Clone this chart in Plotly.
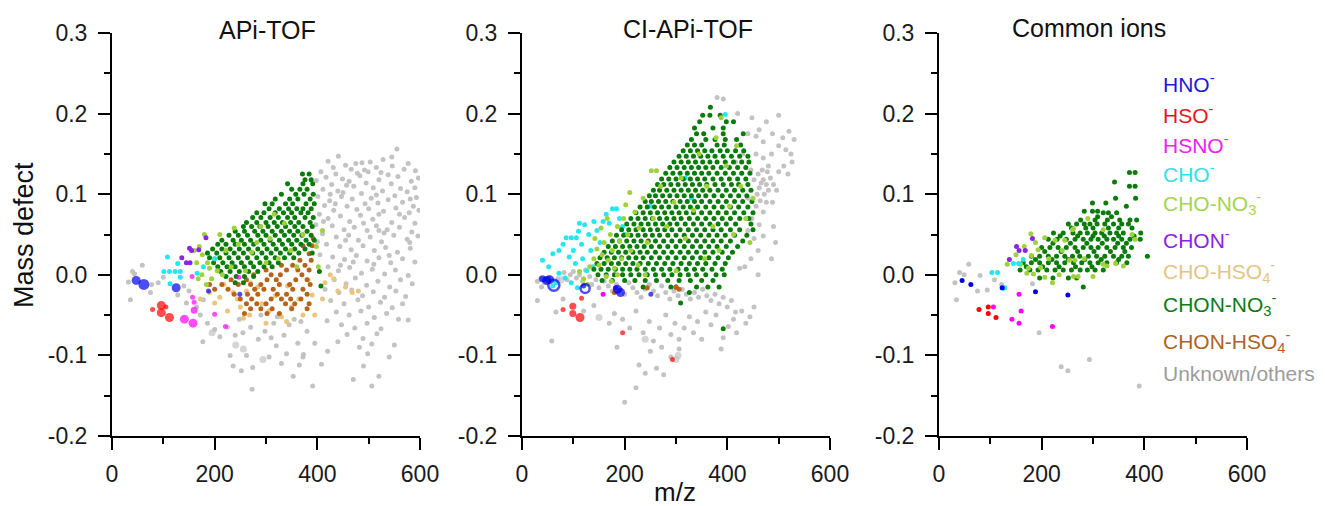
import plotly.graph_objects as go

# ============================ DATA ============================
X_TICKS = [0, 200, 400, 600]
X_TICK_LABELS = ["0", "200", "400", "600"]
X_MINOR = [100, 300, 500]
Y_TICKS = [-0.2, -0.1, 0.0, 0.1, 0.2, 0.3]
Y_TICK_LABELS = ["-0.2", "-0.1", "0.0", "0.1", "0.2", "0.3"]
Y_MINOR = [-0.15, -0.05, 0.05, 0.15, 0.25]
PANEL_TITLES = ["APi-TOF", "CI-APi-TOF", "Common ions"]
X_TITLE = "m/z"
Y_TITLE = "Mass defect"
CATEGORIES = ["HNO", "HSO", "HSNO", "CHO", "CHO-NO3", "CHON", "CHO-HSO4",
              "CHON-NO3", "CHON-HSO4", "Unknown"]
LEGEND_LABELS = ["HNO<sup>-</sup>", "HSO<sup>-</sup>", "HSNO<sup>-</sup>", "CHO<sup>-</sup>",
                 "CHO-NO<sub>3</sub><sup>-</sup>", "CHON<sup>-</sup>",
                 "CHO-HSO<sub>4</sub><sup>-</sup>", "CHON-NO<sub>3</sub><sup>-</sup>",
                 "CHON-HSO<sub>4</sub><sup>-</sup>", "Unknown/others"]

# ---- Panel A: APi-TOF  (m/z, mass defect[, intensity class]) ----
A_HNO = [(47, -0.007, 2), (62, -0.012, 3), (125, -0.016, 2), (188, -0.020, 0), (249, -0.024, 0)]
A_HSO = [(79, -0.043, 0), (96, -0.038, 2), (96, -0.047, 2), (112, -0.053, 2), (105, -0.040, 0)]
A_HSNO = [(141, -0.055, 2), (158, -0.060, 2), (160, -0.044, 1), (157, -0.028, 0), (160, -0.034, 0),
          (200, -0.049, 0), (221, -0.064, 0), (247, -0.003, 0), (156, -0.002, 0)]
A_CHO = [(108, 0.022), (101, 0.004), (112, 0.004), (123, 0.004), (133, 0.004), (133, -0.003),
         (113, -0.011), (166, 0.002), (200, 0.020), (128, 0.014), (178, 0.010)]
A_CHON = [(151, 0.033), (155, 0.030), (169, 0.031), (183, 0.046), (136, 0.021), (152, 0.015), (145, 0.015)]
A_CHO_NO3 = [(160, 0.030), (170, 0.035), (180, 0.050), (176, 0.025), (168, -0.005), (186, 0.015),
             (200, 0.020), (194, -0.005), (210, 0.050), (222, 0.030), (232, 0.010), (246, 0.038),
             (260, 0.005), (272, 0.028), (290, 0.060), (300, 0.015), (308, 0.045), (324, 0.020),
             (336, 0.064), (348, 0.030), (360, 0.010), (372, 0.050), (398, 0.035), (402, 0.010),
             (410, 0.055), (165, 0.015), (175, 0.000), (190, 0.008), (215, 0.000), (238, 0.058),
             (282, 0.040), (316, 0.075), (205, 0.005), (184, -0.012)]
A_CHO_HSO4 = [(172, -0.030), (190, -0.022), (200, -0.035), (210, -0.028), (225, -0.045), (236, -0.022),
              (250, -0.040), (268, -0.050), (284, -0.015), (306, -0.045), (330, -0.052), (350, -0.040),
              (372, -0.050), (390, -0.025), (415, -0.010), (425, 0.000), (440, -0.020), (455, -0.015),
              (468, -0.022), (480, -0.020), (395, -0.050), (410, -0.030), (300, -0.060), (270, -0.010),
              (432, -0.005), (218, -0.012), (244, -0.030), (262, -0.020), (292, -0.036), (318, -0.026),
              (342, -0.014), (364, -0.030), (382, -0.006), (256, -0.054), (340, -0.058)]
# rows: (mass defect, [m/z ...])
A_CHON_NO3 = [
    (0.125, [371, 384]),
    (0.118, [376, 388]),
    (0.113, [342, 372, 391]),
    (0.106, [350, 366, 380]),
    (0.100, [330, 358, 374, 392]),
    (0.094, [318, 346, 362, 386]),
    (0.088, [298, 312, 338, 352, 378, 394]),
    (0.082, [306, 326, 344, 360, 372, 388]),
    (0.077, [282, 296, 318, 334, 350, 368, 382]),
    (0.071, [274, 290, 308, 324, 342, 356, 376, 392]),
    (0.065, [262, 282, 300, 316, 332, 348, 364, 386]),
    (0.060, [256, 272, 288, 304, 322, 338, 356, 372, 390]),
    (0.054, [240, 258, 278, 294, 312, 330, 346, 362, 380]),
    (0.049, [228, 246, 264, 284, 300, 318, 336, 354, 370, 388]),
    (0.043, [214, 236, 252, 270, 290, 308, 326, 344, 360, 378, 394]),
    (0.038, [206, 222, 240, 258, 276, 296, 314, 332, 350, 368, 384]),
    (0.032, [196, 214, 230, 248, 266, 284, 302, 320, 338, 356, 376]),
    (0.027, [186, 204, 222, 238, 256, 274, 292, 310, 328, 346, 364, 390]),
    (0.021, [190, 210, 228, 246, 264, 282, 300, 318, 336, 354]),
    (0.015, [198, 216, 234, 252, 270, 288, 306, 324]),
    (0.010, [206, 224, 240, 258, 276, 296, 312]),
    (0.004, [212, 230, 248, 266, 284, 404]),
    (-0.002, [222, 242, 258, 276]),
    (-0.010, [240, 256]),
    (-0.014, [407]),
]
A_CHON_HSO4 = [
    (0.045, [392]),
    (0.036, [372, 390]),
    (0.026, [384]),
    (0.018, [366, 388]),
    (0.012, [330, 352, 376]),
    (0.006, [300, 340, 362, 384]),
    (0.000, [276, 310, 328, 370]),
    (-0.006, [232, 262, 302, 320, 358, 380]),
    (-0.012, [190, 214, 246, 270, 290, 326, 346, 386]),
    (-0.018, [200, 226, 278, 296, 314, 352, 372]),
    (-0.024, [238, 264, 284, 322, 340, 380]),
    (-0.030, [250, 272, 310, 330, 348, 368]),
    (-0.036, [262, 282, 300, 338, 356, 384]),
    (-0.042, [270, 290, 312, 350, 380]),
    (-0.048, [258, 302, 326]),
]
A_UNK_BIG = [(195, -0.072, 1), (241, -0.087, 1), (256, -0.092, 1), (294, -0.105, 1)]
A_UNK = [
    (32, -0.009), (36, -0.031), (40, 0.004), (44, 0.001), (59, 0.012), (77, -0.012), (75, -0.022),
    (100, -0.003), (90, -0.010), (128, -0.025), (140, -0.014), (150, -0.020), (165, -0.040),
    (178, -0.031), (172, -0.050), (186, -0.060), (145, -0.035), (200, -0.068), (240, -0.075),
    (177, -0.083), (210, -0.077), (225, -0.065), (236, -0.113), (252, -0.119), (274, -0.115),
    (273, -0.142), (306, -0.102), (315, -0.060), (335, -0.075), (353, -0.126), (340, -0.098),
    (362, -0.085), (373, -0.099), (380, -0.070), (391, -0.138), (270, -0.065), (285, -0.080),
    (248, -0.055), (320, -0.088), (355, -0.055), (230, -0.100), (262, -0.100), (298, -0.070),
    (330, -0.110), (345, -0.062), (365, -0.112), (395, -0.085), (290, -0.050), (255, -0.072),
    (310, -0.078), (322, -0.052), (368, -0.058),
    (555, 0.156), (441, 0.147), (528, 0.143), (503, 0.140), (421, 0.141), (455, 0.136), (487, 0.139),
    (577, 0.138), (466, 0.131), (515, 0.133), (546, 0.135), (591, 0.129), (407, 0.128), (431, 0.133),
    (478, 0.126), (499, 0.128), (538, 0.124), (569, 0.131), (417, 0.121), (449, 0.119), (483, 0.123),
    (520, 0.118), (557, 0.122), (597, 0.120), (462, 0.116), (398, 0.117), (428, 0.112), (471, 0.110),
    (495, 0.114), (509, 0.108), (544, 0.113), (583, 0.116), (562, 0.107), (411, 0.106), (440, 0.104),
    (457, 0.111), (486, 0.101), (527, 0.104), (551, 0.098), (575, 0.103), (593, 0.096), (401, 0.097),
    (424, 0.092), (447, 0.097), (468, 0.094), (505, 0.095), (518, 0.089), (538, 0.093), (566, 0.090),
    (587, 0.085), (414, 0.086), (432, 0.080), (458, 0.085), (477, 0.081), (493, 0.088), (529, 0.079),
    (553, 0.083), (579, 0.077), (598, 0.080), (404, 0.075), (421, 0.070), (445, 0.073), (463, 0.066),
    (484, 0.074), (508, 0.069), (520, 0.075), (545, 0.065), (570, 0.071), (590, 0.064), (397, 0.062),
    (429, 0.061), (452, 0.056), (472, 0.059), (497, 0.055), (515, 0.061), (536, 0.056), (560, 0.059),
    (584, 0.053), (410, 0.051), (437, 0.047), (461, 0.049), (480, 0.043), (503, 0.047), (525, 0.041),
    (549, 0.049), (575, 0.044), (596, 0.048), (418, 0.038), (444, 0.035), (466, 0.031), (489, 0.036),
    (511, 0.030), (533, 0.034), (556, 0.028), (581, 0.033), (405, 0.025), (430, 0.022), (453, 0.019),
    (476, 0.024), (497, 0.017), (520, 0.021), (543, 0.015), (566, 0.020), (590, 0.016), (421, 0.010),
    (441, 0.005), (463, 0.009), (486, 0.002), (507, 0.007), (531, 0.001), (552, 0.006), (577, -0.001),
    (433, -0.006), (456, -0.011), (474, -0.004), (496, -0.013), (518, -0.008), (541, -0.015),
    (562, -0.006), (585, -0.011), (415, -0.018), (442, -0.022), (467, -0.019), (488, -0.026),
    (509, -0.021), (531, -0.028), (553, -0.020), (572, -0.027), (426, -0.032), (452, -0.036),
    (479, -0.031), (500, -0.040), (523, -0.034), (546, -0.041), (566, -0.036), (437, -0.046),
    (462, -0.050), (485, -0.045), (511, -0.053), (535, -0.048), (558, -0.055), (419, -0.057),
    (447, -0.062), (473, -0.066), (497, -0.060), (524, -0.067), (577, -0.056), (458, -0.074),
    (489, -0.079), (516, -0.073), (440, -0.083), (482, -0.090), (506, -0.086), (550, -0.087),
    (420, -0.095), (498, -0.098), (372, -0.102), (540, -0.102), (408, -0.111), (490, -0.113),
    (470, -0.130), (520, -0.126), (506, -0.138),
    (436, 0.125), (492, 0.130), (524, 0.127), (450, 0.102), (515, 0.099), (581, 0.094), (435, 0.088),
    (500, 0.082), (560, 0.075), (412, 0.066), (490, 0.064), (530, 0.052), (455, 0.043), (520, 0.055),
    (580, 0.040), (470, 0.016), (540, 0.024), (400, 0.041), (510, 0.013), (445, 0.012), (425, 0.100),
    (475, 0.138), (545, 0.146), (590, 0.108),
]

# ---- Panel B: CI-APi-TOF ----
B_HNO = [(40, -0.005, 1), (48, -0.007, 2), (54, -0.006, 2), (120, -0.014, 0), (186, -0.018, 2),
         (192, -0.022, 2), (251, -0.024, 0)]
B_HNO_RING = [(62, -0.013, 3), (123, -0.017, 2)]
B_HSO = [(80, -0.043, 0), (99, -0.039, 1), (99, -0.048, 1), (113, -0.053, 2), (116, -0.029, 0),
         (196, -0.072, 0), (293, -0.105, 0)]
B_HSNO = [(158, -0.024)]
B_CHON = [(182, -0.016)]
B_CHON_HSO4 = [(180, -0.022), (300, -0.015), (306, -0.018), (244, -0.016)]
B_CHO = [(40, 0.018), (44, -0.006), (52, 0.010), (60, 0.026), (66, -0.010), (72, 0.030), (80, 0.038),
         (86, 0.046), (92, 0.022), (96, 0.046), (100, 0.030), (104, 0.014), (106, 0.046), (110, 0.054),
         (116, 0.038), (118, 0.020), (122, 0.062), (126, 0.005), (130, 0.050), (134, 0.030), (140, 0.066),
         (146, 0.055), (152, 0.040), (158, 0.066), (164, 0.075), (170, 0.064), (176, 0.082), (184, 0.082),
         (190, 0.070), (96, -0.010), (108, -0.016), (84, -0.004), (72, 0.002), (60, -0.014), (138, 0.010),
         (112, 0.064), (196, 0.060), (200, 0.050), (318, 0.120), (396, 0.199), (330, 0.095), (250, 0.085)]
B_CHO_NO3 = [(112, 0.004), (120, -0.005), (128, -0.012), (132, 0.010), (140, 0.020), (146, 0.032),
             (150, 0.012), (156, 0.025), (160, 0.040), (164, -0.002), (168, 0.018), (172, 0.050),
             (176, 0.030), (180, 0.008), (186, 0.060), (190, 0.042), (194, 0.020), (198, 0.070),
             (202, 0.087), (206, 0.050), (212, 0.030), (220, 0.078), (228, 0.058), (236, 0.095),
             (244, 0.040), (252, 0.129), (262, 0.129), (256, 0.070), (270, 0.110), (282, 0.060),
             (296, 0.090), (310, 0.120), (318, 0.045), (334, 0.080), (345, 0.150), (356, 0.020),
             (360, 0.110), (372, 0.060), (378, 0.170), (388, 0.195), (398, 0.135), (404, 0.085),
             (412, 0.050), (418, 0.160), (426, 0.110), (436, 0.070), (444, 0.040), (450, 0.095),
             (384, 0.030), (300, 0.005), (240, 0.000), (226, 0.012), (186, 0.000), (174, -0.008),
             (142, 0.045), (154, 0.058), (166, 0.070), (210, 0.102)]
B_CHON_NO3 = [
    (0.208, [367]),
    (0.198, [352, 366, 386]),
    (0.190, [346, 398, 412]),
    (0.182, [336, 372, 392]),
    (0.175, [340, 354, 392, 431]),
    (0.168, [330, 358, 376, 396, 418]),
    (0.161, [322, 336, 350, 380, 394, 426]),
    (0.154, [314, 328, 342, 356, 370, 386, 400, 416, 432]),
    (0.147, [306, 320, 334, 348, 362, 376, 392, 408, 424, 440]),
    (0.140, [296, 310, 324, 338, 352, 366, 380, 396, 412, 428, 442]),
    (0.133, [288, 302, 316, 330, 344, 358, 372, 388, 404, 420, 436]),
    (0.126, [280, 294, 308, 322, 336, 350, 364, 380, 396, 412, 428, 444]),
    (0.119, [272, 286, 300, 314, 328, 342, 356, 372, 388, 404, 420, 436]),
    (0.112, [264, 276, 290, 304, 318, 332, 346, 360, 376, 392, 408, 422, 440]),
    (0.105, [256, 268, 282, 296, 310, 324, 338, 352, 366, 382, 398, 414, 430, 446]),
    (0.098, [248, 260, 274, 288, 302, 316, 330, 344, 358, 374, 390, 406, 422, 438]),
    (0.091, [240, 252, 266, 280, 294, 308, 322, 336, 350, 366, 382, 398, 414, 430, 448]),
    (0.084, [230, 244, 258, 272, 286, 300, 314, 328, 342, 358, 374, 390, 406, 422, 440]),
    (0.077, [222, 236, 250, 264, 278, 292, 306, 320, 334, 350, 366, 382, 398, 414, 432, 450]),
    (0.070, [212, 226, 240, 254, 268, 282, 296, 310, 326, 342, 358, 374, 390, 406, 424, 442]),
    (0.063, [204, 218, 232, 246, 260, 274, 288, 302, 318, 334, 350, 366, 382, 398, 416, 446]),
    (0.056, [194, 208, 222, 236, 250, 264, 278, 292, 308, 324, 340, 356, 372, 388, 406, 424, 450]),
    (0.049, [184, 198, 212, 226, 240, 254, 268, 284, 300, 316, 332, 348, 364, 380, 396, 414, 438]),
    (0.042, [176, 190, 204, 218, 232, 246, 260, 276, 292, 308, 324, 340, 356, 372, 388, 406, 430]),
    (0.035, [168, 182, 196, 210, 224, 238, 252, 268, 284, 300, 316, 332, 348, 364, 380, 398, 420]),
    (0.028, [160, 174, 188, 202, 216, 230, 244, 260, 276, 292, 308, 324, 340, 356, 372, 390, 410]),
    (0.021, [152, 166, 180, 194, 208, 222, 236, 252, 268, 284, 300, 316, 332, 348, 364, 382, 402]),
    (0.014, [146, 160, 174, 188, 202, 216, 230, 246, 262, 278, 294, 310, 326, 342, 358, 376, 396]),
    (0.007, [140, 154, 168, 182, 196, 210, 224, 240, 256, 272, 288, 304, 320, 336, 352, 370, 390]),
    (0.000, [148, 164, 180, 196, 212, 228, 244, 260, 276, 292, 308, 324, 340, 358, 378, 394]),
    (-0.007, [156, 176, 200, 220, 240, 262, 284, 306, 328, 350, 372]),
    (-0.015, [236, 290, 300, 340, 362, 384]),
    (-0.022, [326]),
    (-0.035, [309]),
    (-0.067, [392]),
]
B_UNK_BIG = [(76, -0.006, 1), (150, -0.053, 1), (240, -0.080, 1), (300, -0.105, 1), (304, -0.100, 1)]
B_UNK = [
    (30, -0.008), (36, -0.005), (38, -0.015), (44, -0.010), (52, -0.003), (70, -0.005), (82, 0.003),
    (88, -0.006), (94, 0.000), (100, 0.004), (106, -0.004), (112, 0.000), (118, -0.008), (124, 0.006),
    (132, -0.002), (136, -0.012), (144, -0.006), (150, -0.016), (160, -0.008), (168, -0.014),
    (176, -0.020), (184, -0.012), (192, -0.018), (200, -0.024), (208, -0.010), (216, -0.016),
    (224, -0.022), (232, -0.028), (240, -0.018), (248, -0.012), (256, -0.020), (264, -0.026),
    (272, -0.014), (280, -0.022), (288, -0.030), (296, -0.020), (304, -0.026), (312, -0.018),
    (320, -0.024), (328, -0.030), (336, -0.022), (344, -0.028), (352, -0.018), (360, -0.026),
    (368, -0.032), (376, -0.024), (384, -0.036), (392, -0.028), (400, -0.040), (408, -0.032),
    (416, -0.046), (30, -0.032), (66, -0.046), (58, -0.082),
    (80, -0.030), (120, -0.045), (140, -0.038), (170, -0.060), (180, -0.048), (196, -0.055),
    (210, -0.066), (222, -0.045), (236, -0.072), (248, -0.058), (256, -0.082), (268, -0.066),
    (280, -0.050), (290, -0.074), (298, -0.060), (306, -0.080), (316, -0.066), (326, -0.052),
    (334, -0.072), (342, -0.058), (350, -0.080), (358, -0.046), (368, -0.062), (378, -0.050),
    (388, -0.092), (392, -0.078), (402, -0.064), (412, -0.055), (418, -0.072), (428, -0.045),
    (436, -0.060), (444, -0.052), (452, -0.040), (228, -0.112), (240, -0.122), (222, -0.140),
    (200, -0.158), (262, -0.116), (276, -0.124), (290, -0.102), (306, -0.092), (250, -0.095),
    (272, -0.090), (185, -0.090),
    (380, 0.220), (392, 0.218), (420, 0.200), (448, 0.195), (462, 0.180), (476, 0.190), (500, 0.198),
    (488, 0.175), (508, 0.170), (520, 0.178), (530, 0.168), (470, 0.165), (456, 0.172), (440, 0.175),
    (500, 0.160), (514, 0.155), (524, 0.150), (486, 0.150), (470, 0.145), (456, 0.150), (460, 0.125),
    (470, 0.118), (476, 0.112), (484, 0.120), (462, 0.108), (472, 0.100), (466, 0.114), (480, 0.105),
    (490, 0.112), (496, 0.105), (452, 0.118), (500, 0.128), (510, 0.135), (518, 0.125), (526, 0.140),
    (480, 0.135), (446, 0.130), (440, 0.095), (456, 0.085), (470, 0.078), (448, 0.070), (462, 0.062),
    (440, 0.055), (452, 0.045), (460, 0.030), (446, 0.020), (434, 0.010), (470, 0.048), (476, 0.090),
    (488, 0.090), (430, 0.150), (416, 0.140), (490, 0.060), (424, 0.008), (460, 0.000), (486, 0.020),
    (494, 0.040), (478, 0.128), (468, 0.130), (458, 0.100), (464, 0.092),
]

# ---- Panel C: common ions ----
C_HNO = [(45, -0.007), (62, -0.012), (123, -0.016), (188, -0.021), (251, -0.025)]
C_HSO = [(78, -0.043), (96, -0.040), (96, -0.048), (111, -0.053)]
C_HSNO = [(106, -0.040), (156, -0.024), (160, -0.045), (142, -0.055), (156, -0.060), (221, -0.064)]
C_CHO = [(103, 0.003), (114, 0.003), (125, -0.017), (128, -0.016), (145, 0.014), (155, 0.014), (164, 0.019)]
C_CHON = [(137, 0.019), (151, 0.035), (156, 0.030), (168, 0.030), (182, 0.045)]
C_UNK = [(40, 0.003), (49, 0.000), (58, 0.013), (31, -0.010), (34, -0.031), (80, -0.001), (75, -0.020),
         (94, -0.019), (108, -0.006), (122, -0.012), (182, -0.011), (195, -0.072), (238, -0.114),
         (251, -0.119), (293, -0.105), (390, -0.138)]
C_CHO_NO3 = [(179, 0.051), (166, 0.035), (193, 0.031), (206, 0.046), (133, 0.013), (159, 0.013),
             (180, 0.024), (174, 0.008), (171, 0.002), (184, 0.001), (206, -0.003), (226, 0.043),
             (245, 0.043), (262, 0.057), (265, 0.018), (254, 0.018), (271, -0.002), (262, -0.002),
             (221, -0.010), (320, 0.013), (344, 0.014), (327, 0.011), (359, 0.011), (382, 0.044),
             (320, 0.056), (260, 0.056), (240, 0.030), (290, 0.070), (300, -0.002), (214, 0.020),
             (198, 0.009), (188, 0.040), (150, 0.025), (234, 0.000), (283, 0.020), (376, 0.050)]
C_CHON_NO3 = [
    (0.127, [371, 382]),
    (0.115, [342]),
    (0.110, [371, 382]),
    (0.095, [344, 383]),
    (0.089, [299, 325]),
    (0.085, [365]),
    (0.079, [283, 299, 309]),
    (0.077, [320, 330, 346]),
    (0.072, [309, 336]),
    (0.068, [276, 304, 328, 352, 372, 385]),
    (0.063, [252, 268, 283, 294, 308, 323, 340, 356, 369]),
    (0.058, [258, 286, 300, 330, 350, 376]),
    (0.052, [223, 242, 261, 275, 289, 304, 317, 333, 346, 359, 393]),
    (0.048, [236, 270, 300, 322, 350, 380]),
    (0.044, [213, 230, 248, 265, 281, 296, 310, 327, 340, 356, 372, 392]),
    (0.039, [222, 256, 288, 318, 348, 365]),
    (0.034, [200, 216, 232, 248, 265, 281, 296, 310, 327, 343, 359, 375]),
    (0.029, [206, 238, 270, 302, 334, 362]),
    (0.023, [180, 196, 213, 229, 245, 260, 274, 291, 307, 323, 340, 356, 369, 406]),
    (0.019, [188, 220, 252, 284, 316, 350]),
    (0.015, [164, 180, 196, 213, 229, 245, 262, 278, 294, 310, 327, 346, 366]),
    (0.010, [170, 202, 234, 266, 298]),
    (0.006, [158, 177, 193, 210, 226, 242, 258, 275, 289, 304, 320]),
    (-0.004, [196, 222, 252, 268]),
    (-0.015, [281]),
]

# ============================ STYLE ============================
FONT = "Liberation Sans, Arial, Helvetica, sans-serif"
COLORS = {
    "HNO": "#0000F0", "HSO": "#FF0000", "HSNO": "#FF00FF", "CHO": "#22E8F0",
    "CHO-NO3": "#9FD13C", "CHON": "#8B24E8", "CHO-HSO4": "#EBC47E",
    "CHON-NO3": "#087C08", "CHON-HSO4": "#B8621B", "Unknown": "#C3C3C3",
}
LEGEND_TEXT_COLORS = {
    "HNO": "#1A1AD8", "HSO": "#E8141E", "HSNO": "#F020F0", "CHO": "#30E0EA",
    "CHO-NO3": "#A6D44E", "CHON": "#8A22E6", "CHO-HSO4": "#E4C585",
    "CHON-NO3": "#0E7A14", "CHON-HSO4": "#B0621F", "Unknown": "#9C9C9C",
}
SIZE_BY_CLASS = {0: 5, 1: 7, 2: 9, 3: 11}
BASE = 5
W, H = 1325, 506
X_DOMAINS_PX = [(112, 420), (522, 830), (939, 1247)]
Y_DOMAIN_PX = (33, 436)


def pts(lst):
    return [p[0] for p in lst], [p[1] for p in lst]


def weighted(lst):
    return [p[0] for p in lst], [p[1] for p in lst], [SIZE_BY_CLASS[p[2]] for p in lst]


def rows(lst):
    xs, ys = [], []
    for md, mzs in lst:
        for mz in mzs:
            xs.append(mz)
            ys.append(md)
    return xs, ys


fig = go.Figure()


def add(panel, xs, ys, cat, size=BASE, symbol="circle", lw=0):
    ax = "" if panel == 1 else str(panel)
    marker = dict(color=COLORS[cat], size=size, symbol=symbol)
    if symbol.endswith("open"):
        marker["line"] = dict(width=lw, color=COLORS[cat])
    else:
        marker["line"] = dict(width=0)
    fig.add_trace(go.Scatter(x=xs, y=ys, mode="markers", marker=marker,
                             xaxis="x" + ax, yaxis="y" + ax, showlegend=False,
                             hoverinfo="skip"))


# Panel 1
add(1, *pts(A_UNK), "Unknown")
x, y, s = weighted(A_UNK_BIG); add(1, x, y, "Unknown", s)
add(1, *pts(A_CHO_HSO4), "CHO-HSO4")
add(1, *rows(A_CHON_HSO4), "CHON-HSO4")
add(1, *rows(A_CHON_NO3), "CHON-NO3")
add(1, *pts(A_CHO_NO3), "CHO-NO3")
add(1, *pts(A_CHON), "CHON")
add(1, *pts(A_CHO), "CHO")
x, y, s = weighted(A_HSNO); add(1, x, y, "HSNO", s)
x, y, s = weighted(A_HSO); add(1, x, y, "HSO", s)
x, y, s = weighted(A_HNO); add(1, x, y, "HNO", s)

# Panel 2
add(2, *pts(B_UNK), "Unknown")
x, y, s = weighted(B_UNK_BIG); add(2, x, y, "Unknown", s)
add(2, *pts(B_CHO), "CHO")
add(2, *rows(B_CHON_NO3), "CHON-NO3")
add(2, *pts(B_CHO_NO3), "CHO-NO3")
add(2, *pts(B_CHON_HSO4), "CHON-HSO4")
add(2, *pts(B_CHON), "CHON")
add(2, *pts(B_HSNO), "HSNO")
x, y, s = weighted(B_HSO); add(2, x, y, "HSO", s)
x, y, s = weighted(B_HNO); add(2, x, y, "HNO", s)
x, y, s = weighted(B_HNO_RING); add(2, x, y, "HNO", s, "circle-open", 2.5)

# Panel 3
add(3, *pts(C_UNK), "Unknown")
add(3, *rows(C_CHON_NO3), "CHON-NO3")
add(3, *pts(C_CHO_NO3), "CHO-NO3")
add(3, *pts(C_CHON), "CHON")
add(3, *pts(C_CHO), "CHO")
add(3, *pts(C_HSNO), "HSNO")
add(3, *pts(C_HSO), "HSO")
add(3, *pts(C_HNO), "HNO")

axis_common = dict(showline=True, linecolor="black", linewidth=2, ticks="outside",
                   ticklen=12, tickwidth=2, tickcolor="black", showgrid=False,
                   zeroline=False, automargin=False,
                   tickfont=dict(family=FONT, size=23, color="#1a1a1a"))
layout = dict(width=W, height=H, margin=dict(l=0, r=0, t=0, b=0, pad=0, autoexpand=False),
              paper_bgcolor="white", plot_bgcolor="white", showlegend=False,
              font=dict(family=FONT))
ydom = [1 - Y_DOMAIN_PX[1] / H, 1 - Y_DOMAIN_PX[0] / H]
for i, (x0, x1) in enumerate(X_DOMAINS_PX):
    k = "" if i == 0 else str(i + 1)
    layout["xaxis" + k] = dict(axis_common, domain=[x0 / W, x1 / W], range=[0, 600],
                               anchor="y" + k, tickvals=X_TICKS, ticktext=X_TICK_LABELS,
                               ticklabelstandoff=4,
                               minor=dict(ticks="outside", ticklen=6, tickwidth=2,
                                          tickcolor="black", tickvals=X_MINOR))
    layout["yaxis" + k] = dict(axis_common, domain=ydom, range=[-0.2, 0.3],
                               anchor="x" + k, tickvals=Y_TICKS, ticktext=Y_TICK_LABELS,
                               ticklabelstandoff=6,
                               minor=dict(ticks="outside", ticklen=6, tickwidth=2,
                                          tickcolor="black", tickvals=Y_MINOR))

ann = []
title_pos = [(267, 30), (688, 29), (1089, 28)]
for t, (px, py) in zip(PANEL_TITLES, title_pos):
    ann.append(dict(text=t, x=px / W, y=1 - py / H, xref="paper", yref="paper",
                    xanchor="center", yanchor="middle", showarrow=False,
                    font=dict(family=FONT, size=25, color="#111")))
ann.append(dict(text=Y_TITLE, x=24 / W, y=1 - 235 / H, xref="paper", yref="paper",
                xanchor="center", yanchor="middle", showarrow=False, textangle=-90,
                font=dict(family=FONT, size=27, color="#111")))
ann.append(dict(text=X_TITLE, x=675 / W, y=1 - 492 / H, xref="paper", yref="paper",
                xanchor="center", yanchor="middle", showarrow=False,
                font=dict(family=FONT, size=26, color="#111")))
legend_y = [83, 114, 144, 173, 203, 239, 271, 304, 341, 373]
for cat, lab, py in zip(CATEGORIES, LEGEND_LABELS, legend_y):
    ann.append(dict(text=lab, x=1161 / W, y=1 - py / H, xref="paper", yref="paper",
                    xanchor="left", yanchor="middle", showarrow=False,
                    font=dict(family=FONT, size=21, color=LEGEND_TEXT_COLORS[cat])))
layout["annotations"] = ann
fig.update_layout(**layout)
fig.write_html("out.html", config={"displayModeBar": False, "staticPlot": True},
               post_script="document.body.style.margin='0px';document.body.style.overflow='hidden';")
